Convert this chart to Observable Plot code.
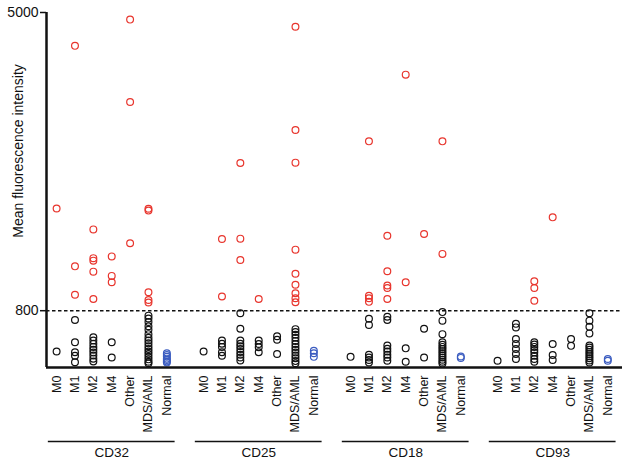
<!DOCTYPE html>
<html><head><meta charset="utf-8">
<script src="https://cdn.jsdelivr.net/npm/d3@7"></script>
<script src="https://cdn.jsdelivr.net/npm/@observablehq/plot@0.6"></script>
<style>html,body{margin:0;padding:0;background:#fff}</style>
</head><body><div id="chart"></div>
<script>
// ---- data ----
const categories = ["M0", "M1", "M2", "M4", "Other", "MDS/AML", "Normal"];
const markers = ["CD32", "CD25", "CD18", "CD93"];
const yTicks = [800, 5000];
const threshold = 800;
const yLabel = "Mean fluorescence intensity";

// values per category, in the order of `categories`
const cd32 = [
  [2240, 225],
  [4530, 1425, 1025, 670, 355, 215, 165, 75],
  [1945, 1540, 1505, 1350, 965, 425, 380, 335, 290, 250, 210, 170, 125, 85],
  [1565, 1290, 1200, 355, 140],
  [4900, 3740, 1750],
  [2235, 2210, 1060, 950, 915, 730, 690, 640, 580, 530, 470, 420, 380, 340, 300, 260, 225, 190, 150, 115, 80, 60],
  [200, 175, 150, 125, 105, 85, 70]
];
const cd25 = [
  [225],
  [1810, 1000, 380, 335, 290, 215, 165],
  [2880, 1815, 1515, 765, 545, 380, 335, 300, 260, 220, 180, 140, 100],
  [965, 380, 330, 285, 215],
  [440, 390, 190],
  [4800, 3345, 2885, 1660, 1320, 1165, 1045, 975, 920, 540, 500, 460, 420, 375, 330, 290, 250, 210, 170, 130, 90, 60],
  [235, 200, 150]
];
const cd18 = [
  [150],
  [3185, 1010, 975, 925, 685, 600, 180, 140, 105, 70],
  [1855, 1355, 1155, 1120, 965, 715, 670, 310, 265, 225, 180, 140, 95],
  [4125, 1200, 270, 80],
  [1880, 545, 140],
  [3185, 1600, 780, 660, 470, 355, 320, 290, 260, 230, 200, 170, 140, 110, 80, 55],
  [155, 135]
];
const cd93 = [
  [95],
  [615, 565, 400, 330, 260, 190, 120],
  [1215, 1120, 940, 355, 325, 290, 245, 210, 165, 120, 80],
  [2115, 330, 175, 105],
  [400, 305],
  [765, 660, 575, 480, 310, 280, 250, 220, 190, 160, 130, 100, 70],
  [120, 95]
];

// ---- build tables ----
const series = [cd32, cd25, cd18, cd93];
const slotsPerGroup = categories.length + 1; // one empty slot between groups
const points = [];
series.forEach((groupVals, g) =>
  groupVals.forEach((vals, c) =>
    vals.forEach(v => points.push({
      marker: markers[g],
      category: categories[c],
      pos: g * slotsPerGroup + c,
      value: v,
      cls: categories[c] === "Normal" ? "normal" : (v > threshold ? "high" : "low")
    }))));
const tickRows = markers.flatMap((m, g) => categories.map((c, i) => ({pos: g * slotsPerGroup + i, label: c})));
const labelByPos = new Map(tickRows.map(d => [d.pos, d.label]));
const groupRows = markers.map((m, g) => {
  const s = g * slotsPerGroup;
  const e = s + categories.length - 1;
  return {name: m, x1: s - 0.45, x2: e + 0.45, mid: (s + e) / 2};
});
const xDomain = [-0.55, 30.8];

const chart = Plot.plot({
  width: 624, height: 465,
  marginLeft: 46, marginRight: 2, marginTop: 12, marginBottom: 98,
  x: {type: "linear", domain: xDomain},
  y: {domain: [0, 5000]},
  color: {domain: ["high", "low", "normal"], range: ["#e8352d", "#111111", "#3b5cc0"]},
  style: {fontFamily: "'Liberation Sans', Arial, sans-serif", fontSize: "12.5px", color: "#111", background: "#fff"},
  marks: [
    Plot.ruleY([threshold], {strokeDasharray: "3.5,2.5", strokeWidth: 1.6}),
    Plot.dot(points, {x: "pos", y: "value", stroke: "cls", r: 3.4, strokeWidth: 1.2}),
    Plot.axisY(yTicks, {tickSize: 6, tickPadding: 2, fontSize: 14, tickFormat: "d", label: null, strokeWidth: 1.5}),
    Plot.axisX(tickRows.map(d => d.pos), {tickSize: 0, tickPadding: 8, tickRotate: -90, tickFormat: p => labelByPos.get(p), fontSize: 12.5, label: null}),
    Plot.ruleX([xDomain[0]], {strokeWidth: 2.5}),
    Plot.ruleY([0], {strokeWidth: 2.5}),
    Plot.ruleY(groupRows, {y: () => 0, x1: "x1", x2: "x2", dy: 74, strokeWidth: 1.5}),
    Plot.text(groupRows, {x: "mid", y: () => 0, dy: 85, text: "name", fontSize: 13.5}),
    Plot.text([yLabel], {frameAnchor: "left", textAnchor: "middle", rotate: -90, dx: -28, dy: -39, fontSize: 14})
  ]
});
document.getElementById("chart").appendChild(chart);
</script>
</body></html>
